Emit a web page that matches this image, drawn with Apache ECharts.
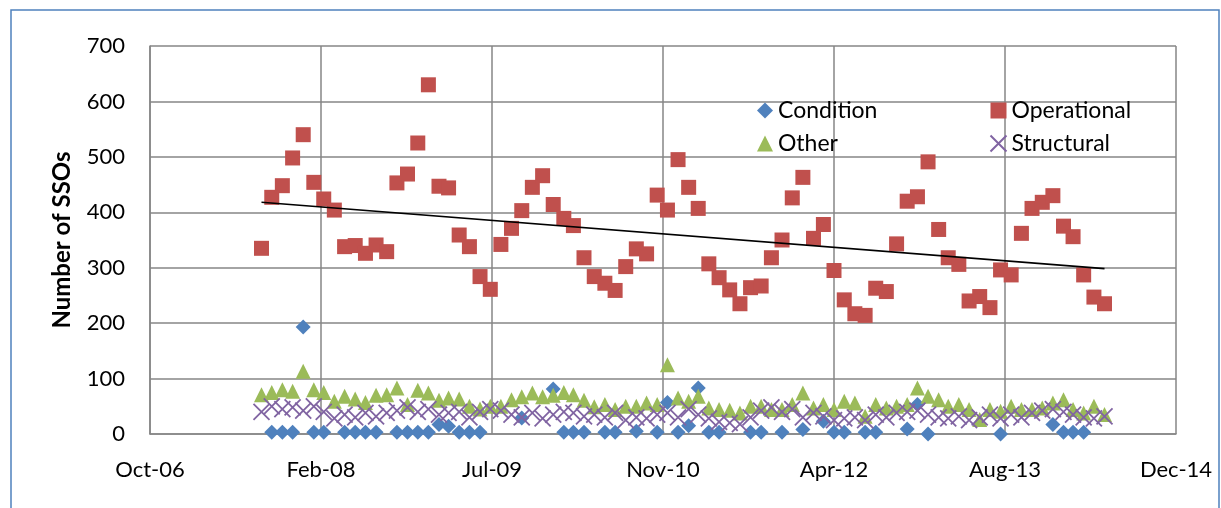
<!DOCTYPE html>
<html>
<head>
<meta charset="utf-8">
<script src="https://cdn.jsdelivr.net/npm/echarts@6/dist/echarts.min.js"></script>
<style>
html,body{margin:0;padding:0;background:#fff;}
#chart{width:1221px;height:508px;}
</style>
</head>
<body>
<div id="chart"></div>
<script>
// Months (one point per month)
var months = [
  "2007-09","2007-10","2007-11","2007-12",
  "2008-01","2008-02","2008-03","2008-04","2008-05","2008-06","2008-07","2008-08","2008-09","2008-10","2008-11","2008-12",
  "2009-01","2009-02","2009-03","2009-04","2009-05","2009-06","2009-07","2009-08","2009-09","2009-10","2009-11","2009-12",
  "2010-01","2010-02","2010-03","2010-04","2010-05","2010-06","2010-07","2010-08","2010-09","2010-10","2010-11","2010-12",
  "2011-01","2011-02","2011-03","2011-04","2011-05","2011-06","2011-07","2011-08","2011-09","2011-10","2011-11","2011-12",
  "2012-01","2012-02","2012-03","2012-04","2012-05","2012-06","2012-07","2012-08","2012-09","2012-10","2012-11","2012-12",
  "2013-01","2013-02","2013-03","2013-04","2013-05","2013-06","2013-07","2013-08","2013-09","2013-10","2013-11","2013-12",
  "2014-01","2014-02","2014-03","2014-04","2014-05","2014-06"
];
var condition = [
  null,3,3,3,193,3,3,null,3,3,3,3,null,3,3,3,3,17,14,3,3,3,null,null,null,29,null,null,
  81,3,3,3,null,3,3,null,5,null,3,57,3,15,83,3,3,null,null,3,3,null,3,null,8,null,
  23,3,3,null,3,3,null,null,9,53,0,null,null,null,null,null,null,0,null,null,null,null,17,3,3,3,null,null
];
var operational = [
  335,427,448,498,540,454,424,404,338,340,326,341,329,453,469,525,630,447,444,359,
  338,284,261,342,371,403,445,466,414,389,376,318,284,272,259,302,334,325,431,404,
  495,445,407,307,282,260,235,264,267,318,350,426,463,353,378,295,242,217,214,263,
  257,343,420,428,491,369,318,306,240,248,228,296,287,362,407,418,430,375,356,287,
  247,235
];
var other = [
  71,75,80,77,113,80,75,59,68,63,57,70,71,83,53,79,74,61,65,63,
  50,45,50,50,62,67,74,67,70,75,71,61,49,53,44,50,50,56,53,125,
  65,59,68,47,44,43,38,50,50,44,44,53,74,47,53,44,59,56,32,53,
  47,50,53,83,68,62,50,53,44,26,44,41,50,44,44,47,56,62,44,38,
  50,35
];
var structural = [
  40,50,45,48,42,50,40,28,35,30,38,32,38,42,48,40,45,35,38,40,
  30,40,45,42,35,30,38,28,35,40,38,32,35,30,38,25,30,28,35,38,
  30,45,35,28,22,20,18,30,42,48,40,45,30,38,32,25,28,30,25,35,
  30,38,40,42,35,30,28,32,25,30,35,28,35,30,38,42,45,40,35,30,
  28,32
];
var seriesNames = ["Condition","Operational","Other","Structural"];
var xTicks = {min: 39000, max: 42000, step: 500}; // Excel date serials (Oct-06 .. Dec-14)
var yTicks = {min: 0, max: 700, step: 100};

var MON = ["Jan","Feb","Mar","Apr","May","Jun","Jul","Aug","Sep","Oct","Nov","Dec"];
function toSerial(s){
  var p = s.split("-");
  return Date.UTC(+p[0], +p[1]-1, 1)/86400000 + 25569;
}
function serialLabel(v){
  var d = new Date((v-25569)*86400000);
  var yy = String(d.getUTCFullYear()%100); if (yy.length<2) yy = "0"+yy;
  return MON[d.getUTCMonth()] + "-" + yy;
}
var xs = months.map(toSerial);
function pairs(arr){ return arr.map(function(v,i){ return [xs[i], v]; }); }

// linear trend of operational
var n=0,sx=0,sy=0,sxx=0,sxy=0;
operational.forEach(function(v,i){ if(v==null) return; n++; sx+=xs[i]; sy+=v; sxx+=xs[i]*xs[i]; sxy+=xs[i]*v; });
var slope=(n*sxy-sx*sy)/(n*sxx-sx*sx), icpt=(sy-slope*sx)/n;
var trend=[[xs[0], icpt+slope*xs[0]],[xs[xs.length-1], icpt+slope*xs[xs.length-1]]];

var FONT = "Lato";
var chart = echarts.init(document.getElementById("chart"), null, {renderer:"canvas"});
var gridColor = "#868686";
chart.setOption({
  animation:false,
  backgroundColor:"#fff",
  textStyle:{fontFamily:FONT},
  graphic:[{type:"rect", shape:{x:11,y:10,width:1208,height:520}, style:{fill:"none", stroke:"#4F81BD", lineWidth:1.5}, silent:true}],
  grid:{left:150, right:45, top:46, bottom:74, containLabel:false},
  legend:[
    {left:752, top:94, orient:"vertical", itemWidth:16, itemHeight:16, itemGap:10,
     data:["Condition","Other"], textStyle:{fontSize:23, color:"#000", fontFamily:FONT}},
    {left:983, top:94, orient:"vertical", itemWidth:16, itemHeight:16, itemGap:10,
     data:["Operational","Structural"], textStyle:{fontSize:23, color:"#000", fontFamily:FONT}}
  ],
  xAxis:{
    type:"value", min:xTicks.min, max:xTicks.max, interval:xTicks.step,
    axisLine:{show:true, lineStyle:{color:gridColor, width:1.5}},
    axisTick:{show:false},
    axisLabel:{formatter:serialLabel, fontSize:22, color:"#000", margin:25, fontFamily:FONT},
    splitLine:{show:true, lineStyle:{color:gridColor, width:1.5}}
  },
  yAxis:{
    type:"value", min:yTicks.min, max:yTicks.max, interval:yTicks.step,
    name:"Number of SSOs", nameLocation:"middle", nameGap:76,
    nameTextStyle:{fontSize:24, fontWeight:"bold", color:"#000", fontFamily:FONT},
    axisLine:{show:true, lineStyle:{color:gridColor, width:1.5}},
    axisTick:{show:false},
    axisLabel:{fontSize:22, color:"#000", margin:25, fontFamily:FONT},
    splitLine:{show:true, lineStyle:{color:gridColor, width:1.5}}
  },
  series:[
    {name:"Condition", type:"scatter", symbol:"diamond", symbolSize:15,
     itemStyle:{color:"#4F81BD", opacity:1}, data:pairs(condition)},
    {name:"Operational", type:"scatter", symbol:"rect", symbolSize:15,
     itemStyle:{color:"#C0504D", opacity:1}, data:pairs(operational)},
    {name:"Other", type:"scatter", symbol:"triangle", symbolSize:15,
     itemStyle:{color:"#9BBB59", opacity:1}, data:pairs(other)},
    {name:"Structural", type:"scatter", symbol:"path://M0,0L10,10M10,0L0,10", symbolSize:16,
     itemStyle:{color:"none", borderColor:"#8064A2", borderWidth:1.8, opacity:1}, data:pairs(structural)},
    {name:"trend", type:"line", symbol:"none", silent:true,
     lineStyle:{color:"#000", width:1.6}, data:trend, z:5}
  ]
});
</script>
</body>
</html>
